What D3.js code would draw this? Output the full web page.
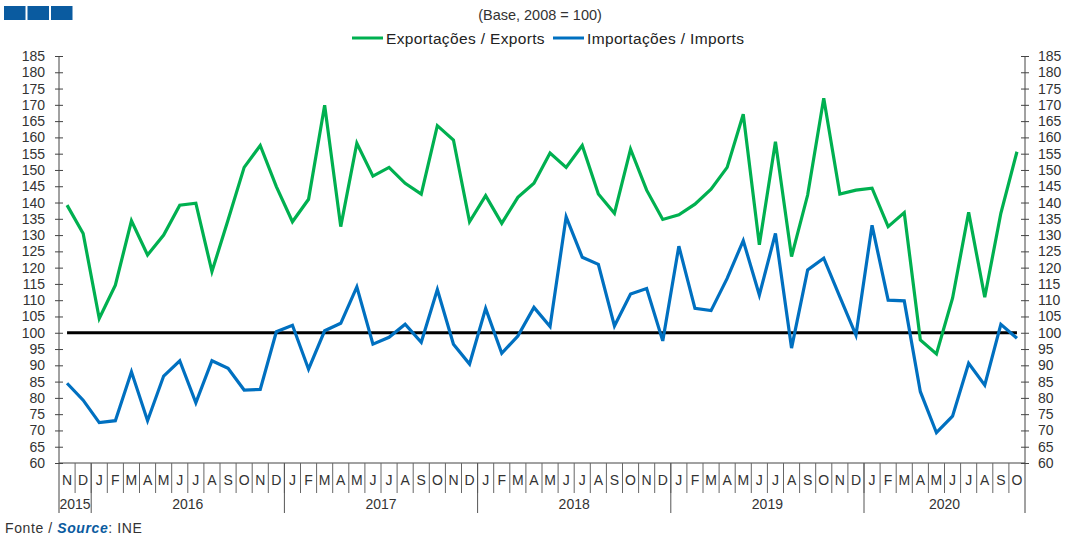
<!DOCTYPE html>
<html>
<head>
<meta charset="utf-8">
<script src="https://cdn.jsdelivr.net/npm/d3@7"></script>
<style>
  body { margin: 0; background: #fff; }
  svg text { font-family: "Liberation Sans", Arial, sans-serif; }
</style>
</head>
<body>
<div id="chart"></div>
<script>
// month letters, Nov 2015 .. Oct 2020
var monthLabels = ["N","D",
  "J","F","M","A","M","J","J","A","S","O","N","D",
  "J","F","M","A","M","J","J","A","S","O","N","D",
  "J","F","M","A","M","J","J","A","S","O","N","D",
  "J","F","M","A","M","J","J","A","S","O","N","D",
  "J","F","M","A","M","J","J","A","S","O"];

// year label and number of months shown for that year
var yearLabels = ["2015", "2016", "2017", "2018", "2019", "2020"];
var yearMonths = [2, 12, 12, 12, 12, 10];

var exportsIdx = [139.2,130.5,104.4,114.6,134.4,123.9,130,139.2,139.8,118.8,134.6,150.8,157.5,144.9,
  134.1,141,169.9,132.6,158.2,148.1,150.8,145.9,142.6,163.6,159.2,134.1,
  142.1,133.6,141.6,145.9,155.2,150.8,157.5,142.6,136.7,156.4,143.8,134.8,
  136.2,139.5,144.1,150.8,167.1,127,158.7,123.4,142.3,172,142.6,143.8,
  144.4,132.6,136.9,97.8,93.5,110.6,137,110.9,136.7,155.6];

var importsIdx = [84.5,79.3,72.4,73,88,73,86.7,91.4,78.5,91.4,89.1,82.4,82.6,100.3,
  102.3,88.8,100.6,102.9,114.1,96.5,98.6,102.6,97.1,113.3,96.5,90.4,
  107.5,93.7,99,107.8,101.9,135.6,123.2,121,102.1,111.9,113.6,97.5,
  126.6,107.5,106.8,116.7,128.3,111.6,130.5,95.3,119.3,122.9,111,99.3,
  133,110,109.8,81.9,69.3,74.4,90.6,83.9,102.6,98.3];

var baseValue = 100;
var yTicks = d3.range(60, 186, 5);

var width = 1069,
    height = 537;

var margin = { left: 59, right: 44, top: 56, bottom: 74 };

var svg = d3.select("#chart")
  .append("svg")
  .attr("width", width)
  .attr("height", height);

var x = d3.scaleBand()
  .domain(d3.range(monthLabels.length))
  .range([margin.left, width - margin.right])
  .padding(0);

var y = d3.scaleLinear()
  .domain([60, 185])
  .range([height - margin.bottom, margin.top]);

var cx = function(i) { return x(i) + x.bandwidth() / 2; };

// blue squares, top left
svg.selectAll(".logo")
  .data([0, 1, 2])
  .enter().append("rect")
  .attr("x", function(d) { return 4 + d * 23.5; })
  .attr("y", 6)
  .attr("width", 21.5)
  .attr("height", 14)
  .attr("fill", "#0a5ba0");

svg.append("text")
  .attr("x", 540)
  .attr("y", 20)
  .attr("text-anchor", "middle")
  .attr("font-size", 14.5)
  .attr("fill", "#333")
  .text("(Base, 2008 = 100)");

// legend
var legend = [
  { name: "Exportações / Exports", color: "#00b050", x: 352 },
  { name: "Importações / Imports", color: "#0070c0", x: 553 }
];
var lg = svg.selectAll(".legend")
  .data(legend)
  .enter().append("g")
  .attr("transform", function(d) { return "translate(" + d.x + ",38)"; });
lg.append("line")
  .attr("x1", 0).attr("x2", 31)
  .attr("stroke", function(d) { return d.color; })
  .attr("stroke-width", 3);
lg.append("text")
  .attr("x", 34)
  .attr("y", 5.5)
  .attr("font-size", 15.5)
  .attr("letter-spacing", 0.35)
  .attr("fill", "#222")
  .text(function(d) { return d.name; });

// y axes
var yLeft = svg.append("g")
  .attr("transform", "translate(" + margin.left + ",0)")
  .call(d3.axisLeft(y).tickValues(yTicks).tickSize(4).tickPadding(10));
var yRight = svg.append("g")
  .attr("transform", "translate(" + (width - margin.right) + ",0)")
  .call(d3.axisRight(y).tickValues(yTicks).tickSize(4).tickPadding(9));

[yLeft, yRight].forEach(function(g) {
  g.select(".domain").remove();
  g.selectAll(".tick line").attr("x1", -4).attr("x2", 4).attr("stroke", "#444");
  g.selectAll(".tick text").attr("font-size", 14).attr("fill", "#333")
    .attr("font-family", "Liberation Sans, Arial, sans-serif");
  g.append("line")
    .attr("y1", y(185)).attr("y2", height - 24)
    .attr("stroke", "#444");
});

// x axis line and month separators
var x0 = y(60);
svg.append("line")
  .attr("x1", margin.left).attr("x2", width - margin.right)
  .attr("y1", x0).attr("y2", x0)
  .attr("stroke", "#444");

svg.selectAll(".msep")
  .data(d3.range(1, monthLabels.length))
  .enter().append("line")
  .attr("x1", function(i) { return x(i); })
  .attr("x2", function(i) { return x(i); })
  .attr("y1", x0)
  .attr("y2", x0 + 30)
  .attr("stroke", "#666");

svg.selectAll(".mlab")
  .data(monthLabels)
  .enter().append("text")
  .attr("x", function(d, i) { return cx(i); })
  .attr("y", x0 + 22)
  .attr("text-anchor", "middle")
  .attr("font-size", 14)
  .attr("fill", "#333")
  .text(function(d) { return d; });

// year groups
var start = 0;
var years = yearLabels.map(function(label, k) {
  var g = { label: label, first: start, last: start + yearMonths[k] - 1 };
  start += yearMonths[k];
  return g;
});

svg.selectAll(".ysep")
  .data(years.slice(0, -1))
  .enter().append("line")
  .attr("x1", function(d) { return x(d.last) + x.bandwidth(); })
  .attr("x2", function(d) { return x(d.last) + x.bandwidth(); })
  .attr("y1", x0)
  .attr("y2", height - 24)
  .attr("stroke", "#555");

svg.selectAll(".ylab")
  .data(years)
  .enter().append("text")
  .attr("x", function(d) { return (x(d.first) + x(d.last) + x.bandwidth()) / 2; })
  .attr("y", x0 + 46)
  .attr("text-anchor", "middle")
  .attr("font-size", 14)
  .attr("fill", "#333")
  .text(function(d) { return d.label; });

// base line at 100
svg.append("line")
  .attr("x1", cx(0))
  .attr("x2", cx(monthLabels.length - 1))
  .attr("y1", y(baseValue))
  .attr("y2", y(baseValue))
  .attr("stroke", "#000")
  .attr("stroke-width", 3);

// series
var line = d3.line()
  .x(function(d, i) { return cx(i); })
  .y(function(d) { return y(d); });

svg.append("path")
  .datum(exportsIdx)
  .attr("fill", "none")
  .attr("stroke", "#00b050")
  .attr("stroke-width", 3.2)
  .attr("d", line);

svg.append("path")
  .datum(importsIdx)
  .attr("fill", "none")
  .attr("stroke", "#0070c0")
  .attr("stroke-width", 3.2)
  .attr("d", line);

// source
var src = svg.append("text")
  .attr("x", 5)
  .attr("y", 533)
  .attr("font-size", 14)
  .attr("letter-spacing", 0.6)
  .attr("fill", "#333");
src.append("tspan").text("Fonte / ");
src.append("tspan")
  .attr("font-weight", "bold")
  .attr("font-style", "italic")
  .attr("fill", "#0a5ba0")
  .text("Source");
src.append("tspan").text(": INE");
</script>
</body>
</html>
